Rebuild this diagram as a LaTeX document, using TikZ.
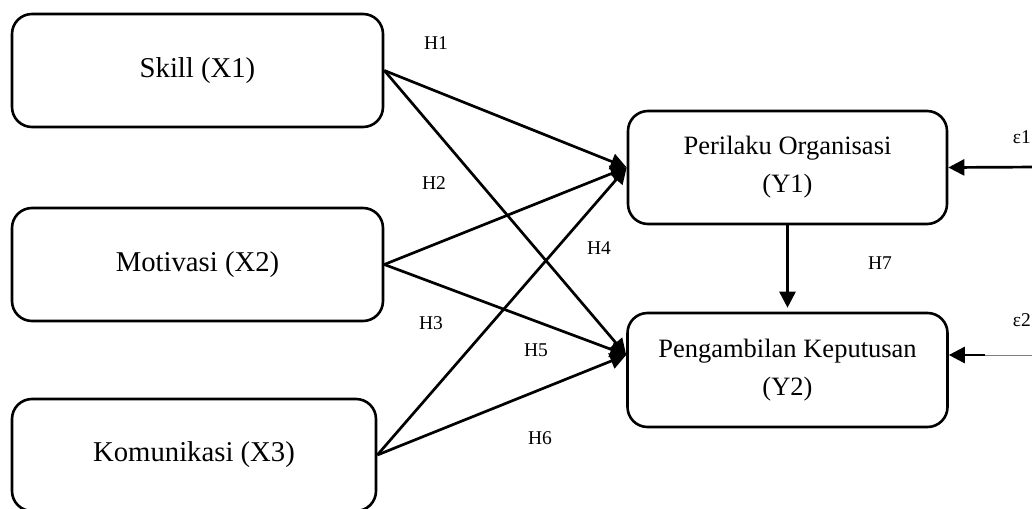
\documentclass[tikz,border=0pt]{standalone}
\usepackage{fontspec}
\setmainfont{Liberation Serif}
\usetikzlibrary{arrows,arrows.meta}
\usetikzlibrary{positioning}

\begin{document}
\begin{tikzpicture}
		[x=1pt,y=-1pt,
		varbox/.style={draw,rounded corners=20pt,line width=2.6pt,minimum height=113pt,inner sep=0pt,align=center},
		xfont/.style={font=\fontsize{28.7}{38}\selectfont},
		yfont/.style={font=\fontsize{26.5}{38}\selectfont},
		hlabel/.style={font=\fontsize{19.5}{22}\selectfont,inner sep=0pt},
		link/.style={line width=2.7pt,-{Triangle[length=16pt,width=16pt]}}]
		\useasboundingbox (0,0) rectangle (1032,508);
		
		% variables
		\node[varbox,xfont,minimum width=371pt] (skill) at (197.5,70.5) {Skill (X1)};
		\node[varbox,xfont,minimum width=371pt] (motiv) at (197.5,264.5) {Motivasi (X2)};
		\node[varbox,xfont,minimum width=364pt,minimum height=112pt] (komun) at (194,455) {Komunikasi (X3)};
		\node[varbox,yfont,minimum width=319pt] (perilaku) at (787.5,167.5) {Perilaku Organisasi\\(Y1)};
		\node[varbox,yfont,minimum width=320pt,minimum height=114pt] (peng) at (787.5,370) {Pengambilan Keputusan\\(Y2)};
		
		% hypotheses
		\node[hlabel] (h1) at (436,43) {H1};
		\node[hlabel] (h2) at (434,183) {H2};
		\node[hlabel] (h3) at (431,323) {H3};
		\node[hlabel] (h4) at (599,248) {H4};
		\node[hlabel] (h5) at (536,350) {H5};
		\node[hlabel] (h6) at (540,438) {H6};
		\node[hlabel] (h7) at (880,263) {H7};
		\node[hlabel,anchor=east] (eps1) at (1031,137) {ε1};
		\node[hlabel,anchor=east] (eps2) at (1031,320) {ε2};
		
		\coordinate (e1) at (1040,167);
		\coordinate (e2) at (1040,355);
		\coordinate (e2m) at (985,355);
		
		\foreach \from in {skill,motiv,komun}
		{\draw[link] (\from.east) -- (perilaku.west);
		 \draw[link] (\from.east) -- ([yshift=15pt]peng.west);}
		\draw[link,shorten >=4pt] (perilaku.south) -- (peng.north);
		\draw[link] (e1) -- (perilaku.east);
		\draw[gray,line width=0.8pt] (e2) -- (e2m);
		\draw[link] (e2m) -- ([yshift=15pt]peng.east);
\end{tikzpicture}
\end{document}
